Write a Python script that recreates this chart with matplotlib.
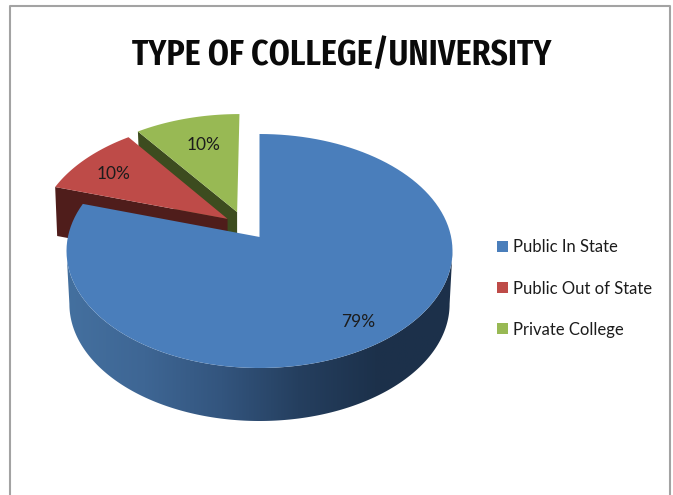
import numpy as np
import matplotlib.pyplot as plt
from matplotlib.colors import LinearSegmentedColormap
from matplotlib.patches import Patch, Polygon

title = "TYPE OF COLLEGE/UNIVERSITY"
categories = ["Public In State", "Public Out of State", "Private College"]
shares = [79, 10, 10]

top_colors = ["#4a7ebb", "#be4b48", "#98b954"]
side_colors = [None, "#4f1d1b", "#3d4c1f"]
blue_side = ["#44709f", "#3e6694", "#33557e", "#253f5f", "#1c314b", "#1c304a"]

# slice offsets on the pie disc (x, y), the big slice stays in place
explode = [(0, 0), (-0.17, 0.16), (-0.12, 0.222)]
label_r = [0.82, 0.78, 0.72]
label_dx = [-2, -2, 4]

cx, cy = 259.5, 251
rx, ry = 193, 117
depth = 53
persp = 0.12


def project(x, y):
    # perspective view of the flat disc: circle stays an ellipse, centre moves up
    d = 1 + persp * y
    u = x * np.sqrt(1 - persp**2) / d
    v = (y + persp) / d
    return cx + rx * u, cy - ry * v


def wedge(start, end, off):
    t = np.radians(np.linspace(start, end, 120))
    xs = np.r_[0, np.sin(t)] + off[0]
    ys = np.r_[0, np.cos(t)] + off[1]
    return np.column_stack(project(xs, ys))


fig = plt.figure(figsize=(6.73, 4.95), dpi=100)
ax = fig.add_axes([0, 0, 1, 1])
ax.set_xlim(0, 673)
ax.set_ylim(495, 0)
ax.axis("off")

# frame of the chart area, open at the bottom
ax.plot([9.5, 9.5, 670, 670], [495, 5.5, 5.5, 495], color="#a3a3a3", lw=1.5)

angles = np.cumsum([0] + shares) / sum(shares) * 360

# back slices first so the big one sits on top of them
for i in [2, 1]:
    pts = wedge(angles[i], angles[i + 1], explode[i])
    apex, rim = pts[0], pts[1]
    cut = [apex, rim, rim + [2, depth - 4], apex + [0, depth - 4]]
    ax.add_patch(Polygon(cut, closed=True, fc=side_colors[i], ec="none", zorder=2))
    ax.add_patch(Polygon(pts, closed=True, fc=top_colors[i], ec="none", zorder=3))

# outer wall of the big slice with a horizontal shading, a bit narrower at the floor
t0 = np.arccos(-persp)
t = np.linspace(t0, 2 * np.pi - t0, 300)
wx, wy = project(np.sin(t), np.cos(t))
floor_x = cx + (wx - cx) * 0.985
wall = np.r_[np.column_stack((wx, wy)), np.column_stack((floor_x, wy + depth))[::-1]]
wall_patch = Polygon(wall, closed=True, fc="none", ec="none", transform=ax.transData)
ax.add_patch(wall_patch)
cmap = LinearSegmentedColormap.from_list("wall", blue_side)
img = ax.imshow(np.linspace(0, 1, 256).reshape(1, -1), cmap=cmap, aspect="auto",
                extent=(wx.min(), wx.max(), wy.max() + depth, wy.min()), zorder=4)
img.set_clip_path(wall_patch)
ax.set_xlim(0, 673)
ax.set_ylim(495, 0)

ax.add_patch(Polygon(wedge(angles[0], angles[1], explode[0]), closed=True,
                     fc=top_colors[0], ec="none", zorder=5))

for i, share in enumerate(shares):
    mid = np.radians((angles[i] + angles[i + 1]) / 2)
    lx, ly = project(label_r[i] * np.sin(mid) + explode[i][0],
                     label_r[i] * np.cos(mid) + explode[i][1])
    ax.text(lx + label_dx[i], ly + 2.5, f"{share}%", ha="center", va="center", fontsize=12.5,
            family="Lato", color="#1c1c1c", zorder=6)

ax.text(341.5, 65, title, ha="center", va="baseline", fontsize=26.5, fontweight="semibold",
        family=["Fira Sans Extra Condensed", "Fira Sans Condensed", "Lato"], color="#0a0a0a")

handles = [Patch(fc=c, ec="none") for c in top_colors]
ax.legend(handles, categories, loc="center left", bbox_to_anchor=(497 / 673, 1 - 288.5 / 495),
          frameon=False, prop={"family": "Lato", "size": 12}, labelcolor="#1c1c1c",
          handlelength=0.66, handleheight=0.66, handletextpad=0.3, labelspacing=1.5,
          borderpad=0, borderaxespad=0)

fig.savefig("out.png", dpi=100)
